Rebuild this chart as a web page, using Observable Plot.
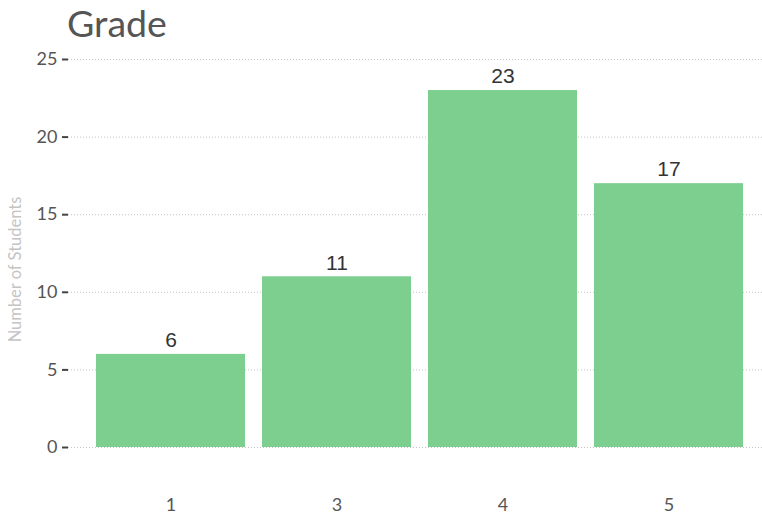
<!DOCTYPE html>
<html>
<head>
<meta charset="utf-8">
<script src="https://cdn.jsdelivr.net/npm/d3@7"></script>
<script src="https://cdn.jsdelivr.net/npm/@observablehq/plot@0.6"></script>
<style>
  body { margin: 0; background: #fff; font-family: Lato, sans-serif; }
  #title { margin: 0; padding: 0 0 0 67px; height: 45px; overflow: visible; font-size: 37.5px; font-weight: 400; color: #555; line-height: normal; }
</style>
</head>
<body>
<div id="title">Grade</div>
<div id="chart"></div>
<script>
const grades = ["1", "3", "4", "5"];
const counts = [6, 11, 23, 17];
const yTicks = [0, 5, 10, 15, 20, 25];
const data = grades.map((g, i) => ({grade: g, count: counts[i]}));

const chart = Plot.plot({
  width: 762,
  height: 475,
  marginTop: 14,
  marginBottom: 73,
  marginLeft: 79,
  marginRight: 2,
  style: {fontFamily: "Lato, sans-serif", fontSize: "16px", color: "#555", background: "#fff"},
  x: {domain: grades, padding: 0.1, label: null},
  y: {domain: [0, 25], label: null},
  marks: [
    Plot.ruleY(yTicks, {stroke: "#c4c4c4", strokeDasharray: "1,2", strokeWidth: 1, insetLeft: -11, insetRight: -2}),
    Plot.barY(data, {x: "grade", y: "count", fill: "#7dcf8f"}),
    Plot.text(data, {x: "grade", y: "count", text: d => String(d.count), dy: -14, fontSize: 21, fill: "#333", fontFamily: "Liberation Sans, Arial, sans-serif"}),
    Plot.axisY(yTicks, {tickSize: 6, tickPadding: 5, stroke: "#444", strokeWidth: 2, fontSize: 18, fill: "#555", label: null, dx: -11}),
    Plot.axisX({tickSize: 0, tickPadding: 51, fontSize: 18, fill: "#555", label: null}),
    Plot.text(["Number of Students"], {frameAnchor: "left", textAnchor: "middle", rotate: -90, dx: -64, dy: 16, fontSize: 16.5, fill: "#c4c4c4"})
  ]
});
document.getElementById("chart").appendChild(chart);
</script>
</body>
</html>
